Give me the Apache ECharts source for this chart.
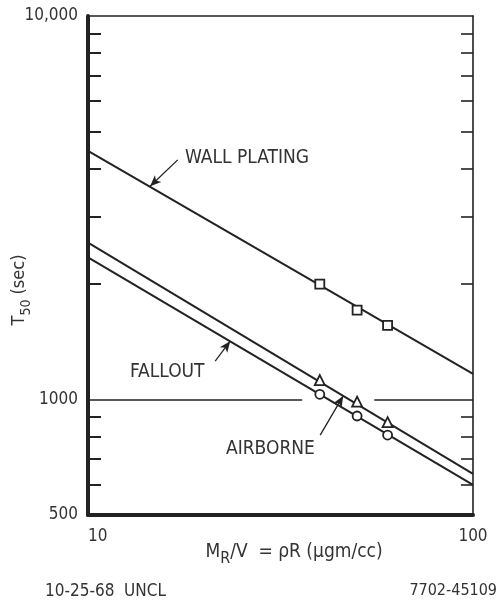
<!DOCTYPE html>
<html>
<head>
<meta charset="utf-8">
<script src="https://cdn.jsdelivr.net/npm/echarts@6/dist/echarts.min.js"></script>
<style>html,body{margin:0;padding:0;background:#fff}#c{width:498px;height:605px}</style>
</head>
<body>
<div id="c"></div>
<script>
// ---- data ----
const xRange = [10, 100];
const yRange = [500, 10000];
const yLabelValues = [500, 1000, 10000];
const yLabelTexts = ['500', '1000', '10,000'];
const yMinorTicks = [600, 700, 800, 900, 2000, 3000, 4000, 5000, 6000, 7000, 8000, 9000];
const fitX = [10, 100];
const wallPlatingFit = [4450, 1166];
const airborneFit = [2565, 640];
const falloutFit = [2349, 599];
const measuredX = [40, 50, 60];
const wallPlatingPts = [2000, 1710, 1560];
const airbornePts = [1124, 987, 873];
const falloutPts = [1032, 906, 808];
const refLevel = 1000;
const refGap = [36, 55.4];
// annotation arrows: [from, to] in data coords
const wallArrow = [[17.1, 4216], [14.5, 3600]];
const falloutArrow = [[21.4, 1260], [23.4, 1420]];
const airborneArrow = [[40.1, 808], [46.0, 1022]];

const FONT = "'DejaVu Sans Condensed', 'DejaVu Sans', sans-serif";
const INK = '#222';
const TXT = '#333';

const chart = echarts.init(document.getElementById('c'), null, {renderer: 'canvas'});

function pairs(xs, ys) { return xs.map((x, i) => [x, ys[i]]); }
function arrowLine(a) {
  return {
    silent: true, symbol: ['none', 'arrow'], symbolSize: [7, 11],
    label: {show: false}, lineStyle: {color: INK, width: 1.3, type: 'solid'},
    emphasis: {disabled: true}, animation: false,
    data: [[{coord: a[0]}, {coord: a[1]}]]
  };
}

const lineBase = {type: 'line', showSymbol: false, symbol: 'none', lineStyle: {color: INK, width: 2}, silent: true, z: 3};
const scatterBase = {type: 'scatter', silent: true, z: 5,
  itemStyle: {color: '#fff', borderColor: INK, borderWidth: 1.8, opacity: 1}};

const option = {
  animation: false,
  grid: {left: 88, top: 16, width: 385, height: 499, containLabel: false},
  xAxis: [
    {type: 'log', logBase: 10, min: xRange[0], max: xRange[1], position: 'bottom',
     axisLine: {show: true, lineStyle: {color: INK, width: 4}},
     axisTick: {show: false}, splitLine: {show: false}, minorTick: {show: false},
     axisLabel: {show: true, color: TXT, fontFamily: FONT, fontSize: 17, margin: 13,
       alignMinLabel: 'left', formatter: v => String(v)}},
    {type: 'log', logBase: 10, min: xRange[0], max: xRange[1], position: 'top',
     axisLine: {show: true, lineStyle: {color: INK, width: 1.6}},
     axisTick: {show: false}, axisLabel: {show: false}, splitLine: {show: false}}
  ],
  yAxis: [
    {type: 'log', logBase: 10, min: yRange[0], max: yRange[1], position: 'left',
     axisLine: {show: true, lineStyle: {color: INK, width: 4}},
     axisTick: {show: true, inside: true, length: 13, lineStyle: {color: INK, width: 2}, customValues: yMinorTicks},
     axisLabel: {show: true, color: TXT, fontFamily: FONT, fontSize: 17, margin: 10,
       customValues: yLabelValues,
       formatter: v => { const i = yLabelValues.findIndex(t => Math.abs(t - v) < 1e-6 * t); return i >= 0 ? yLabelTexts[i] : ''; }},
     splitLine: {show: false}},
    {type: 'log', logBase: 10, min: yRange[0], max: yRange[1], position: 'right',
     axisLine: {show: true, lineStyle: {color: INK, width: 1.6}},
     axisTick: {show: true, inside: true, length: 12, lineStyle: {color: INK, width: 1.6}, customValues: yMinorTicks},
     axisLabel: {show: false}, splitLine: {show: false}}
  ],
  series: [
    Object.assign({}, lineBase, {name: 'WALL PLATING', data: pairs(fitX, wallPlatingFit), markLine: arrowLine(wallArrow)}),
    Object.assign({}, lineBase, {name: 'AIRBORNE', data: pairs(fitX, airborneFit), markLine: arrowLine(airborneArrow)}),
    Object.assign({}, lineBase, {name: 'FALLOUT', data: pairs(fitX, falloutFit), markLine: arrowLine(falloutArrow)}),
    Object.assign({}, lineBase, {name: 'ref', data: [], markLine: {
      silent: true, symbol: ['none', 'none'], label: {show: false},
      lineStyle: {color: INK, width: 1.5, type: 'solid'}, emphasis: {disabled: true},
      data: [
        [{coord: [xRange[0], refLevel]}, {coord: [refGap[0], refLevel]}],
        [{coord: [refGap[1], refLevel]}, {coord: [xRange[1], refLevel]}]
      ]}}),
    Object.assign({}, scatterBase, {name: 'WALL PLATING pts', symbol: 'rect', symbolSize: 9, data: pairs(measuredX, wallPlatingPts)}),
    Object.assign({}, scatterBase, {name: 'AIRBORNE pts', symbol: 'triangle', symbolSize: [10, 10], data: pairs(measuredX, airbornePts)}),
    Object.assign({}, scatterBase, {name: 'FALLOUT pts', symbol: 'circle', symbolSize: 9, data: pairs(measuredX, falloutPts)})
  ],
  graphic: [
    {type: 'text', left: 185, top: 149, style: {text: 'WALL PLATING', fill: TXT, font: '19px ' + FONT}},
    {type: 'text', left: 130, top: 363, style: {text: 'FALLOUT', fill: TXT, font: '19px ' + FONT}},
    {type: 'text', left: 226, top: 440, style: {text: 'AIRBORNE', fill: TXT, font: '19px ' + FONT}},
    {type: 'text', x: 19, y: 290, rotation: Math.PI / 2,
     style: {text: '{a|T}{s|50}{a| (sec)}', align: 'center', verticalAlign: 'middle',
       rich: {a: {fill: TXT, fontFamily: FONT, fontSize: 18, verticalAlign: 'bottom'},
              s: {fill: TXT, fontFamily: FONT, fontSize: 14, verticalAlign: 'bottom', padding: [0, 0, -5, 0]}}}},
    {type: 'text', x: 294, y: 552,
     style: {text: '{a|M}{s|R}{a|/V  = ρR (μgm/cc)}', align: 'center', verticalAlign: 'middle',
       rich: {a: {fill: TXT, fontFamily: FONT, fontSize: 19, verticalAlign: 'bottom'},
              s: {fill: TXT, fontFamily: FONT, fontSize: 16, verticalAlign: 'bottom', padding: [0, 0, -5, 0]}}}},
    {type: 'text', left: 45, top: 583, style: {text: '10-25-68  UNCL', fill: TXT, font: '17px ' + FONT}},
    {type: 'text', right: 1, top: 583, style: {text: '7702-45109', fill: TXT, font: '16px ' + FONT}}
  ]
};
chart.setOption(option);
</script>
</body>
</html>
